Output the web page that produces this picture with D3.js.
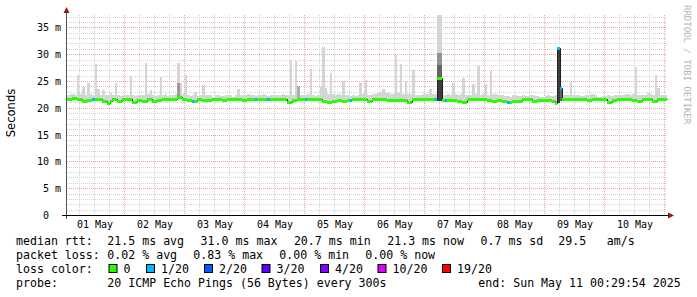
<!DOCTYPE html>
<html>
<head>
<meta charset="utf-8">
<script src="https://cdn.jsdelivr.net/npm/d3@7"></script>
<style>
  body { margin: 0; background: #fff; }
  text { font-family: "DejaVu Sans Mono", monospace; white-space: pre; }
</style>
</head>
<body>
<div id="chart"></div>
<script>
// smokeping rtt, 1h consolidated steps (ms)
const median = [
  21.58, 21.58, 21.77, 21.77, 21.55, 21.55, 21.33, 21.33, 21.36, 21.36,
  21.55, 21.55, 21.64, 21.64, 21.33, 21.33, 20.90, 21.33, 21.64, 21.64,
  21.27, 21.27, 21.55, 21.55, 21.64, 21.64, 21.08, 21.08, 21.45, 21.45,
  21.27, 21.27, 21.64, 21.64, 21.18, 21.18, 21.45, 21.45, 21.64, 21.64,
  21.73, 21.73, 21.55, 21.55, 22.00, 22.00, 21.55, 21.55, 21.36, 21.36,
  21.18, 21.18, 21.64, 21.64, 21.45, 21.45, 21.36, 21.36, 21.73, 21.73,
  21.64, 21.64, 21.45, 21.45, 21.73, 21.73, 21.64, 21.64, 21.55, 21.55,
  21.45, 21.45, 21.55, 21.55, 21.64, 21.64, 21.64, 21.64, 21.64, 21.64,
  21.55, 21.55, 21.70, 21.70, 21.70, 21.70, 21.55, 21.55, 21.14, 21.14,
  21.45, 21.45, 21.55, 21.55, 21.55, 21.55, 21.64, 21.64, 21.64, 21.64,
  21.55, 21.55, 21.33, 21.33, 21.14, 21.14, 21.27, 21.27, 21.36, 21.36,
  21.33, 21.33, 21.36, 21.36, 21.70, 21.70, 21.70, 21.70, 21.55, 21.55,
  21.27, 21.27, 21.55, 21.55, 21.64, 21.64, 21.64, 21.64, 21.45, 21.45,
  21.45, 21.45, 21.45, 21.45, 21.36, 21.36, 21.14, 21.14, 21.64, 21.64,
  21.64, 21.64, 21.64, 21.64, 21.55, 21.55, 21.55, 21.55, 25.60, 25.60,
  21.45, 21.45, 21.45, 21.45, 21.36, 21.36, 21.27, 21.27, 21.14, 21.14,
  21.64, 21.64, 21.64, 21.64, 21.73, 21.73, 21.64, 21.64, 21.36, 21.36,
  21.33, 21.33, 21.45, 21.45, 21.27, 21.27, 21.14, 21.14, 21.33, 21.33,
  21.18, 21.18, 21.64, 21.64, 21.64, 21.64, 21.18, 21.18, 21.36, 21.36,
  21.45, 21.45, 21.45, 21.45, 21.20, 20.90, 31.10, 23.70, 21.64, 21.64,
  21.64, 21.64, 21.73, 21.73, 21.70, 21.70, 21.64, 21.64, 21.45, 21.45,
  21.64, 21.64, 21.70, 21.70, 21.64, 21.64, 21.14, 21.14, 21.45, 21.45,
  21.55, 21.55, 21.64, 21.64, 21.55, 21.55, 21.45, 21.45, 21.18, 21.18,
  21.64, 21.64, 21.64, 21.64, 21.18, 21.18, 21.55, 21.55, 21.55, 21.55
];
// highest ping of each step (top of the smoke)
const smokeTop = [
  22.4, 22.5, 22.6, 22.4, 26.1, 22.5, 23.9, 22.4, 24.6, 22.5,
  22.4, 28.1, 23.5, 22.4, 23.3, 22.3, 22.4, 22.7, 22.3, 24.6,
  22.3, 22.2, 22.4, 22.3, 22.4, 26.0, 22.3, 22.2, 22.4, 22.3,
  22.4, 28.3, 22.5, 23.3, 22.3, 22.2, 22.4, 25.7, 22.3, 22.6,
  22.2, 22.3, 22.4, 22.6, 28.3, 24.6, 22.6, 26.1, 22.3, 22.2,
  22.3, 23.0, 22.2, 22.3, 24.3, 22.4, 22.3, 22.4, 22.1, 22.3,
  22.3, 22.2, 22.2, 22.3, 22.4, 22.3, 22.1, 22.3, 23.5, 22.3,
  22.3, 22.4, 22.6, 22.4, 22.3, 22.2, 22.4, 22.3, 22.5, 22.4,
  22.2, 22.3, 22.4, 22.3, 22.3, 22.4, 22.5, 22.4, 22.3, 28.9,
  22.4, 28.7, 24.0, 22.4, 22.3, 22.4, 22.5, 27.2, 22.3, 22.2,
  22.4, 23.8, 31.4, 23.7, 22.6, 26.5, 22.5, 22.4, 22.5, 22.3,
  25.0, 22.4, 22.3, 22.2, 22.3, 22.2, 22.4, 24.6, 22.5, 25.2,
  22.3, 22.4, 22.5, 22.6, 22.8, 22.9, 23.5, 22.8, 22.7, 22.6,
  22.6, 29.9, 22.8, 28.1, 22.6, 24.8, 22.5, 22.6, 27.0, 22.4,
  22.4, 22.4, 22.5, 22.6, 22.5, 23.5, 22.6, 22.5, 37.3, 37.3,
  22.4, 22.4, 22.5, 22.4, 24.6, 22.5, 22.4, 22.6, 25.5, 22.4,
  22.4, 22.3, 24.4, 22.5, 27.8, 22.4, 22.5, 24.4, 22.3, 26.9,
  22.6, 22.5, 22.4, 22.3, 22.3, 22.2, 22.2, 22.1, 22.3, 22.3,
  22.2, 22.2, 22.3, 22.2, 22.2, 22.3, 22.3, 22.2, 22.2, 22.1,
  22.1, 22.2, 22.3, 22.2, 22.2, 22.3, 31.3, 23.9, 22.4, 22.3,
  22.4, 24.8, 22.4, 22.3, 22.3, 22.2, 22.2, 22.3, 22.3, 22.5,
  22.5, 22.3, 22.1, 22.1, 22.2, 22.2, 22.3, 22.2, 22.2, 22.4,
  22.4, 22.3, 22.3, 22.6, 22.6, 22.4, 22.5, 27.7, 22.4, 22.3,
  22.3, 22.4, 22.8, 22.6, 22.4, 26.1, 23.7, 22.4, 22.3, 22.3
];
// denser smoke bands: step index, low, high, pings inside
const coreAt    = [44, 92, 148, 148, 148, 149, 149, 149, 196, 197];
const coreLo    = [21.9, 21.5, 21.2, 25.6, 28.0, 21.2, 25.6, 28.0, 20.9, 21.2];
const coreHi    = [24.6, 24.0, 25.6, 28.0, 30.2, 25.6, 28.0, 30.2, 31.1, 23.7];
const corePings = [7, 5, 17, 13, 8, 17, 13, 8, 17, 13];
// steps with lost pings (out of 20)
const lossAt    = [10, 50, 75, 80, 95, 113, 147, 151, 176, 196, 197];
const lossPings = [1, 1, 1, 1, 1, 1, 1, 1, 1, 1, 1];

const lossLevels = ["0", "1/20", "2/20", "3/20", "4/20", "10/20", "19/20"];
const lossThresh = [0, 1, 2, 3, 4, 10, 19];
const yTicks = [0, 5, 10, 15, 20, 25, 30, 35];
const rttStats = ["21.5 ms avg", "31.0 ms max", "20.7 ms min", "21.3 ms now", "0.7 ms sd"];
const lossStats = ["0.02 % avg", "0.83 % max", "0.00 % min", "0.00 % now"];

const lossColors = ["#26ff00", "#00b8ff", "#0059ff", "#5e00ff", "#7e00ff", "#dd00ff", "#ff0000"];
const lossColor = d3.scaleThreshold().domain(lossThresh.slice(1)).range(lossColors);
const smokeGray = d3.scaleLinear().domain([1, 20]).range(["#d5d5d5", "#202020"]);

const W = 697, H = 297;
const svg = d3.select("#chart").append("svg")
  .attr("width", W).attr("height", H)
  .style("display", "block");

const stepMs = 3600 * 1000;
const t0 = Date.UTC(2025, 4, 1, 1, 12);
const t1 = t0 + 10 * 24 * 3600 * 1000;
const times = median.map((d, i) => new Date(t0 + i * stepMs));

const x = d3.scaleUtc().domain([new Date(t0), new Date(t1)]).range([67, 667]);
const y = d3.scaleLinear().domain([0, 37.31]).range([215, 15]);
const px = v => Math.round(v) + 0.5;

// grid
const grid = svg.append("g");
const minorY = d3.range(1, 38).filter(v => v % 5 !== 0);
grid.selectAll("line.my").data(minorY).enter().append("line")
  .attr("x1", 67).attr("x2", 667)
  .attr("y1", d => px(y(d))).attr("y2", d => px(y(d)))
  .attr("stroke", "#d4d4d4").attr("stroke-dasharray", "1,1");
const hours = d3.utcHour.every(6).range(new Date(t0), new Date(t1)).filter(d => d.getUTCHours() !== 0);
grid.selectAll("line.mx").data(hours).enter().append("line")
  .attr("x1", d => px(x(d))).attr("x2", d => px(x(d)))
  .attr("y1", 15).attr("y2", 215)
  .attr("stroke", "#d4d4d4").attr("stroke-dasharray", "1,1");
grid.selectAll("line.My").data(yTicks.slice(1)).enter().append("line")
  .attr("x1", 67).attr("x2", 667)
  .attr("y1", d => px(y(d))).attr("y2", d => px(y(d)))
  .attr("stroke", "#eba3a3").attr("stroke-dasharray", "1,1");
const days = d3.utcDay.range(new Date(t0), new Date(t1));
grid.selectAll("line.Mx").data(days).enter().append("line")
  .attr("x1", d => px(x(d))).attr("x2", d => px(x(d)))
  .attr("y1", 15).attr("y2", 215)
  .attr("stroke", "#eba3a3").attr("stroke-dasharray", "1,1");

// pixel-snapped step columns
const colX = i => Math.round(x(times[i]));
const colW = i => Math.round(x(new Date(+times[i] + stepMs))) - colX(i);

// smoke
svg.append("g").selectAll("rect").data(smokeTop).enter().append("rect")
  .attr("x", (d, i) => colX(i)).attr("width", (d, i) => colW(i))
  .attr("y", d => Math.round(y(d))).attr("height", (d, i) => Math.max(0, Math.round(y(median[i])) - Math.round(y(d))))
  .attr("fill", smokeGray(1));
svg.append("g").selectAll("rect").data(coreAt).enter().append("rect")
  .attr("x", d => colX(d)).attr("width", d => colW(d))
  .attr("y", (d, k) => Math.round(y(coreHi[k]))).attr("height", (d, k) => Math.round(y(coreLo[k])) - Math.round(y(coreHi[k])))
  .attr("fill", (d, k) => smokeGray(corePings[k]));

// median line
const pts = times.map((t, i) => [t, median[i]]);
pts.push([new Date(t1), median[median.length - 1]]);
svg.append("path")
  .attr("d", d3.line().x(d => Math.round(x(d[0])) + 0.5).y(d => px(y(d[1]))).curve(d3.curveStepAfter)(pts))
  .attr("fill", "none").attr("stroke", "#202020").attr("stroke-width", 1);

// loss coloured median band
const loss = median.map((d, i) => { const k = lossAt.indexOf(i); return k < 0 ? 0 : lossPings[k]; });
svg.append("g").selectAll("rect").data(median).enter().append("rect")
  .attr("x", (d, i) => colX(i)).attr("width", (d, i) => colW(i))
  .attr("y", d => Math.round(y(d)) - 1).attr("height", 3)
  .attr("fill", (d, i) => lossColor(loss[i]));

// axes
svg.append("line").attr("x1", 66.5).attr("x2", 66.5).attr("y1", 219).attr("y2", 12)
  .attr("stroke", "#555");
svg.append("line").attr("x1", 62).attr("x2", 669).attr("y1", 215.5).attr("y2", 215.5)
  .attr("stroke", "#000");
svg.append("path").attr("d", "M63.5,13L66.5,7L69.5,13Z").attr("fill", "#8b1c1c");
svg.append("path").attr("d", "M668,212.5L674,215.5L668,218.5Z").attr("fill", "#8b1c1c");

svg.append("g").selectAll("text").data(yTicks).enter().append("text")
  .attr("x", 61).attr("y", d => px(y(d)) + 3.5)
  .attr("text-anchor", "end").attr("font-size", 10).attr("fill", "#000")
  .text(d => d === 0 ? "0  " : d + " m");

const noons = days.map(d => d3.utcHour.offset(d, -12)).concat([d3.utcHour.offset(days[days.length - 1], 12)]);
svg.append("g").selectAll("text").data(noons.filter(d => x(d) > 67 && x(d) < 667)).enter().append("text")
  .attr("x", d => x(d) + 1).attr("y", 228)
  .attr("text-anchor", "middle").attr("font-size", 10).attr("fill", "#000")
  .text(d => d3.utcFormat("%d %b")(d));

svg.append("text")
  .attr("transform", "translate(15,113) rotate(-90)")
  .attr("text-anchor", "middle")
  .style("font-family", "'DejaVu Sans', sans-serif").attr("font-size", 11.6)
  .text("Seconds");

svg.append("text")
  .attr("transform", "translate(684,5) rotate(90)")
  .attr("font-size", 9).attr("fill", "#b4b4b4")
  .text("RRDTOOL / TOBI OETIKER");

// legend
const fs = 11.6;
const leg = svg.append("g").attr("font-size", fs).attr("fill", "#000");
leg.append("text").attr("x", 16).attr("y", 245).text("median rtt:");
rttStats.forEach((s, i) => leg.append("text").attr("x", 107.3 + 93.3 * i).attr("y", 245).text(s));
leg.append("text").attr("x", 558.3).attr("y", 245).text("29.5");
leg.append("text").attr("x", 606.7).attr("y", 245).text("am/s");

leg.append("text").attr("x", 16).attr("y", 259).text("packet loss:");
lossStats.forEach((s, i) => leg.append("text").attr("x", 107.3 + 86 * i).attr("y", 259).text(s));

leg.append("text").attr("x", 16).attr("y", 273).text("loss color:");
const boxX = [108.5, 146, 204, 261.5, 320, 377.5, 442];
lossLevels.forEach((s, i) => {
  leg.append("rect").attr("x", boxX[i] + 0.5).attr("y", 264.5).attr("width", 8).attr("height", 8)
    .attr("fill", lossColor(lossThresh[i])).attr("stroke", "#000");
  leg.append("text").attr("x", boxX[i] + 15).attr("y", 273).text(s);
});

leg.append("text").attr("x", 16).attr("y", 287).text("probe:");
leg.append("text").attr("x", 107.3).attr("y", 287).text("20 ICMP Echo Pings (56 Bytes) every 300s");
leg.append("text").attr("x", 478.3).attr("y", 287).text("end: Sun May 11 00:29:54 2025");
</script>
</body>
</html>
